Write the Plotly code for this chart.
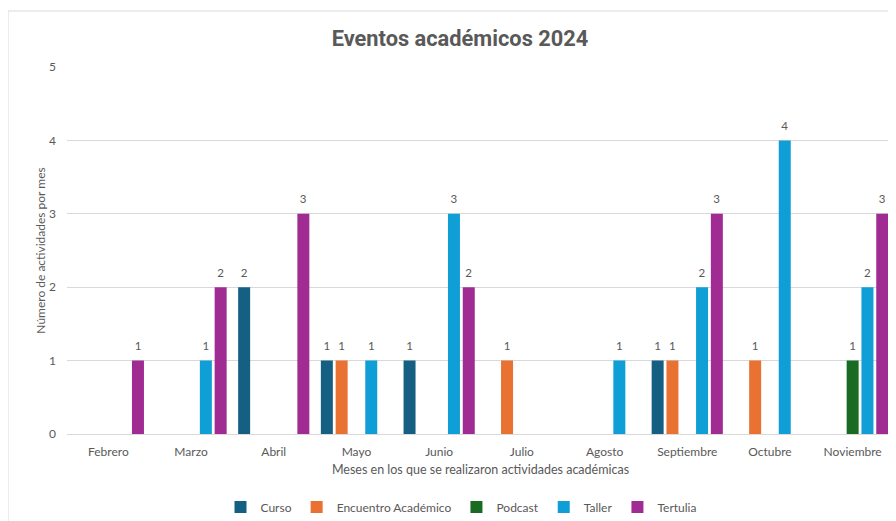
import plotly.graph_objects as go

months = ["Febrero", "Marzo", "Abril", "Mayo", "Junio", "Julio", "Agosto",
          "Septiembre", "Octubre", "Noviembre"]
curso = [None, None, 2, 1, 1, None, None, 1, None, None]
encuentro = [None, None, None, 1, None, 1, None, 1, 1, None]
podcast = [None, None, None, None, None, None, None, None, None, 1]
taller = [None, 1, None, 1, 3, None, 1, 2, 4, 2]
tertulia = [1, 2, 3, None, 2, None, None, 3, None, 3]

series = [
    ("Curso", curso, "#156082"),
    ("Encuentro Académico", encuentro, "#E97132"),
    ("Podcast", podcast, "#196B24"),
    ("Taller", taller, "#0F9ED5"),
    ("Tertulia", tertulia, "#A02B93"),
]

fig = go.Figure()
for name, vals, color in series:
    fig.add_trace(go.Bar(
        x=months, y=vals, name=name,
        marker=dict(color=color, line=dict(width=0)),
        texttemplate="<span style='font-size:11.5px'>%{y}</span><br> ",
        textposition="outside",
        textfont=dict(size=5, color="#595959", family="Lato"),
        cliponaxis=False,
    ))

# page body has an 8px offset; figure coordinates = screen - 8
OFF = 8
W, H = 888, 513
ml, mr, mt, mb = 67 - OFF, 2, 67 - OFF, 87
pw = W - ml - mr
ph = H - mt - mb

def px_x(px):
    return (px - OFF - ml) / pw

def px_y(py):
    return (H - mb - (py - OFF)) / ph

fig.update_layout(
    width=W, height=H,
    margin=dict(l=ml, r=mr, t=mt, b=mb, autoexpand=False),
    paper_bgcolor="white", plot_bgcolor="white",
    barmode="group", bargap=0.105, bargroupgap=0.19,
    font=dict(family="Lato", color="#595959", size=12),
    title=dict(text="<b>Eventos académicos 2024</b>", x=(460 - OFF) / W,
               xanchor="center", y=1 - (38 - OFF) / H, yanchor="middle",
               font=dict(size=21.8, color="#595959", family="Roboto")),
    showlegend=True,
    legend=dict(orientation="h", x=px_x(461), xanchor="center",
                y=px_y(507), yanchor="middle",
                font=dict(size=12, color="#595959"),
                itemwidth=30, traceorder="normal"),
    xaxis=dict(
        showgrid=False, showline=False, ticks="", ticklabelstandoff=9,
        tickfont=dict(size=12, color="#595959"),
        title=dict(text="Meses en los que se realizaron actividades académicas",
                   font=dict(size=12.5, color="#595959"), standoff=7),
    ),
    yaxis=dict(
        range=[0, 5], dtick=1, showgrid=True, gridcolor="#D9D9D9", gridwidth=1,
        zeroline=True, zerolinecolor="#D9D9D9", zerolinewidth=1,
        showline=False, ticks="", ticklabelstandoff=10,
        tickfont=dict(size=12, color="#595959"),
        title=dict(text="Número de actividades por mes",
                   font=dict(size=12, color="#595959"), standoff=0),
    ),
    shapes=[dict(type="rect", xref="paper", yref="paper",
                 x0=px_x(8), x1=px_x(905), y0=px_y(530), y1=px_y(11),
                 line=dict(color="#D9D9D9", width=1), layer="below")],
)

fig.write_html("out.html")
